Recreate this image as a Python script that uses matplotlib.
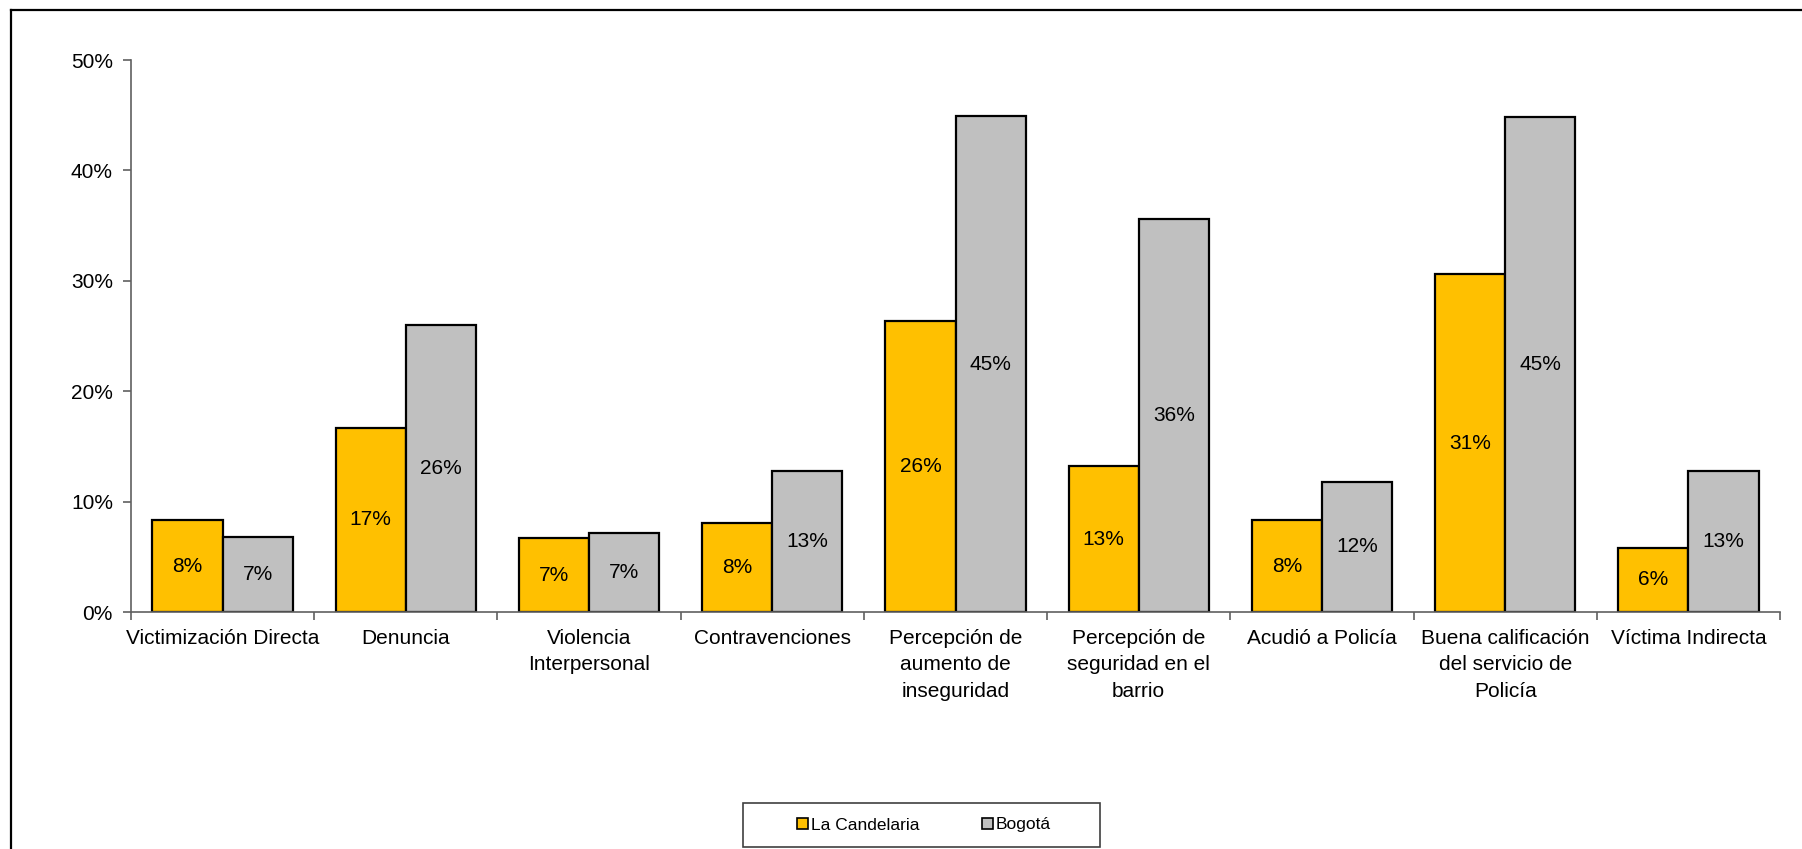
import matplotlib
matplotlib.use("Agg")
import matplotlib.pyplot as plt
from matplotlib.lines import Line2D
from matplotlib.patches import Rectangle, Patch
import numpy as np

plt.rcParams['font.family'] = ['Liberation Sans', 'DejaVu Sans']

# Data
categories = ["Victimización Directa", "Denuncia", "Violencia\nInterpersonal",
              "Contravenciones", "Percepción de\naumento de\ninseguridad",
              "Percepción de\nseguridad en el\nbarrio", "Acudió a Policía",
              "Buena calificación\ndel servicio de\nPolicía", "Víctima Indirecta"]
candelaria = [8.3, 16.7, 6.7, 8.1, 26.4, 13.2, 8.3, 30.6, 5.8]
bogota = [6.8, 26.0, 7.2, 12.8, 44.9, 35.6, 11.8, 44.8, 12.8]
series_names = ["La Candelaria", "Bogotá"]
yticks = [0, 10, 20, 30, 40, 50]

W, H = 1802, 849
fs = 15
fig = plt.figure(figsize=(W / 100, H / 100), dpi=100)
ax = fig.add_axes([131 / W, 1 - 612 / H, (1780 - 131) / W, (612 - 60) / H])

orange = "#FFC000"
grey = "#C0C0C0"
bw = 0.383
x = np.arange(len(categories)) + 0.5

b1 = ax.bar(x - bw / 2, candelaria, bw, color=orange, edgecolor="black", linewidth=1.6)
b2 = ax.bar(x + bw / 2, bogota, bw, color=grey, edgecolor="black", linewidth=1.6)

for bars, vals in ((b1, candelaria), (b2, bogota)):
    for r, v in zip(bars, vals):
        ax.text(r.get_x() + r.get_width() / 2, v / 2, "%d%%" % round(v),
                ha="center", va="center", fontsize=fs)

ax.set_xlim(0, len(categories))
ax.set_ylim(0, 50)
ax.set_yticks(yticks)
ax.set_yticklabels(["%d%%" % t for t in yticks], fontsize=fs)
ax.set_xticks(x)
ax.set_xticklabels(categories, fontsize=fs, linespacing=1.5)
ax.set_xticks(np.arange(len(categories) + 1), minor=True)
ax.tick_params(axis="x", which="major", length=0, pad=12)
ax.tick_params(axis="x", which="minor", length=6, color="#606060", width=1.2)
ax.tick_params(axis="y", length=6, color="#606060", width=1.2, pad=7)

for s in ("top", "right"):
    ax.spines[s].set_visible(False)
for s in ("left", "bottom"):
    ax.spines[s].set_color("#606060")
    ax.spines[s].set_linewidth(1.2)

# outer chart frame (left and top edges visible)
fig.add_artist(Line2D([11 / W, 11 / W], [0, 1 - 10 / H], color="black", lw=1.6))
fig.add_artist(Line2D([11 / W, 1], [1 - 10 / H, 1 - 10 / H], color="black", lw=1.6))

# legend box
fig.add_artist(Rectangle((743 / W, 1 - 847 / H), 357 / W, 44 / H,
                         transform=fig.transFigure, fill=False,
                         edgecolor="#404040", lw=1.2))
handles = [Patch(facecolor=orange, edgecolor="black", lw=1.2),
           Patch(facecolor=grey, edgecolor="black", lw=1.2)]
fig.legend(handles, series_names, loc="center",
           bbox_to_anchor=(924 / W, 1 - 825 / H), ncol=2, frameon=False,
           fontsize=12.5, handlelength=0.65, handleheight=0.65,
           handletextpad=0.15, columnspacing=3.6)

fig.savefig("out.png", dpi=100)
